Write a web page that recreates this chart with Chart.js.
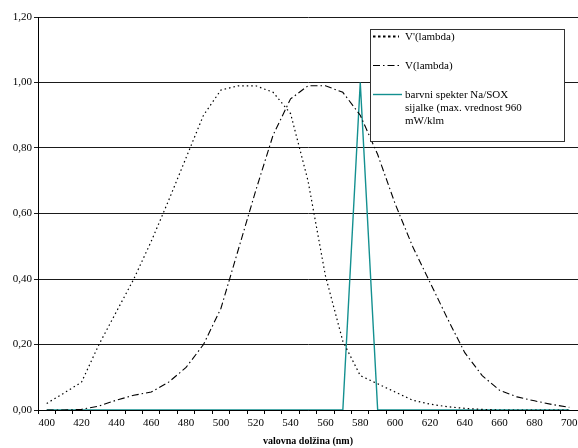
<!DOCTYPE html>
<html>
<head>
<meta charset="utf-8">
<script src="https://cdn.jsdelivr.net/npm/chart.js@4/dist/chart.umd.min.js"></script>
<style>
  html, body { margin: 0; padding: 0; background: #fff; }
  #wrap { width: 578px; height: 448px; }
</style>
</head>
<body>
<div id="wrap"><canvas id="myChart" width="578" height="448"></canvas></div>
<script>
// wavelength categories (nm)
var wavelengths = [400, 410, 420, 430, 440, 450, 460, 470, 480, 490, 500,
  510, 520, 530, 540, 550, 560, 570, 580, 590, 600,
  610, 620, 630, 640, 650, 660, 670, 680, 690, 700];

// V'(lambda) - scotopic
var scotopic = [0.02, 0.052, 0.085, 0.20, 0.30, 0.40, 0.515, 0.64, 0.77, 0.90, 0.977,
  0.99, 0.99, 0.97, 0.905, 0.70, 0.41, 0.21, 0.105, 0.08, 0.055,
  0.03, 0.018, 0.01, 0.005, 0.002, 0, 0, 0, 0, 0];

// V(lambda) - photopic
var photopic = [0, 0, 0.002, 0.012, 0.03, 0.045, 0.055, 0.085, 0.13, 0.20, 0.31,
  0.49, 0.67, 0.84, 0.95, 0.99, 0.99, 0.97, 0.90, 0.78, 0.63,
  0.50, 0.39, 0.28, 0.175, 0.105, 0.06, 0.04, 0.028, 0.017, 0.008];

// Na/SOX lamp spectrum
var soxSpectrum = [0, 0, 0, 0, 0, 0, 0, 0, 0, 0, 0,
  0, 0, 0, 0, 0, 0, 0, 1.0, 0, 0,
  0, 0, 0, 0, 0, 0, 0, 0, 0, 0];

var yTicks = [0, 0.2, 0.4, 0.6, 0.8, 1.0, 1.2];

var seriesLabels = ["V'(lambda)", "V(lambda)",
  ["barvni spekter Na/SOX", "sijalke (max. vrednost 960", "mW/klm"]];

var serif = "'Liberation Serif', 'DejaVu Serif', serif";

// legend box drawn inside the plot, like the original
var boxLegend = {
  id: "boxLegend",
  afterDraw: function (chart) {
    var c = chart.ctx;
    var x0 = 370, y0 = 29, w = 194, h = 112;
    c.save();
    c.fillStyle = "#fff";
    c.fillRect(x0, y0, w, h);
    c.strokeStyle = "#333";
    c.lineWidth = 1;
    c.strokeRect(x0 + 0.5, y0 + 0.5, w, h);
    var rows = [36, 65, 94];
    c.font = "11px " + serif;
    c.fillStyle = "#000";
    c.textBaseline = "middle";
    chart.data.datasets.forEach(function (ds, i) {
      var y = rows[i] + 0.5;
      c.beginPath();
      c.strokeStyle = ds.borderColor;
      c.lineWidth = i === 0 ? 2 : ds.borderWidth;
      c.setLineDash(i === 0 ? [2.5, 2.5] : ds.borderDash || []);
      c.moveTo(373, y);
      c.lineTo(i === 2 ? 402 : 399, y);
      c.stroke();
      c.setLineDash([]);
      var lines = Array.isArray(seriesLabels[i]) ? seriesLabels[i] : [seriesLabels[i]];
      lines.forEach(function (t, k) {
        c.fillText(t, 405, rows[i] + 1.5 + k * 12.7);
      });
    });
    c.restore();
  }
};

var ctx = document.getElementById("myChart").getContext("2d");
var chart = new Chart(ctx, {
  type: "line",
  data: {
    labels: wavelengths,
    datasets: [
      {
        label: "V'(lambda)",
        data: scotopic,
        borderColor: "#000",
        borderWidth: 1.2,
        borderDash: [1.5, 3],
        pointRadius: 0,
        tension: 0,
        fill: false,
      },
      {
        label: "V(lambda)",
        data: photopic,
        borderColor: "#000",
        borderWidth: 1.1,
        borderDash: [7, 3, 1.5, 3],
        pointRadius: 0,
        tension: 0,
        fill: false,
      },
      {
        label: "barvni spekter Na/SOX sijalke (max. vrednost 960 mW/klm",
        data: soxSpectrum,
        borderColor: "#139090",
        borderWidth: 1.4,
        pointRadius: 0,
        tension: 0,
        fill: false,
      },
    ],
  },
  options: {
    responsive: false,
    animation: false,
    layout: { padding: { top: 17, right: 0, left: 0, bottom: 0 } },
    plugins: {
      legend: { display: false },
      tooltip: { enabled: false },
    },
    scales: {
      x: {
        offset: true,
        grid: {
          offset: true,
          drawOnChartArea: false,
          drawTicks: true,
          tickLength: 4,
          color: "#000",
        },
        border: { color: "#000", width: 1 },
        ticks: {
          autoSkip: false,
          maxRotation: 0,
          padding: 3,
          color: "#000",
          font: { family: serif, size: 11 },
          callback: function (v, i) {
            return i % 2 === 0 ? wavelengths[i] : "";
          },
        },
        title: {
          display: true,
          text: "valovna dolžina (nm)",
          color: "#000",
          font: { family: serif, size: 10, weight: "bold" },
          padding: { top: 0, bottom: 1 },
        },
        afterFit: function (scale) {
          scale.height = 38;
          scale.paddingLeft = 0;
          scale.paddingRight = 0;
        },
      },
      y: {
        min: 0,
        max: 1.2,
        afterBuildTicks: function (scale) {
          scale.ticks = yTicks.map(function (v) { return { value: v }; });
        },
        grid: {
          color: "#1a1a1a",
          lineWidth: 1,
          drawTicks: true,
          tickLength: 4,
        },
        border: { color: "#000", width: 1 },
        ticks: {
          padding: 2,
          color: "#000",
          font: { family: serif, size: 11 },
          callback: function (v) {
            return Number(v).toFixed(2).replace(".", ",");
          },
        },
        afterFit: function (scale) {
          scale.width = 38;
          scale.paddingTop = 0;
          scale.paddingBottom = 0;
        },
      },
    },
  },
  plugins: [boxLegend],
});
</script>
</body>
</html>
